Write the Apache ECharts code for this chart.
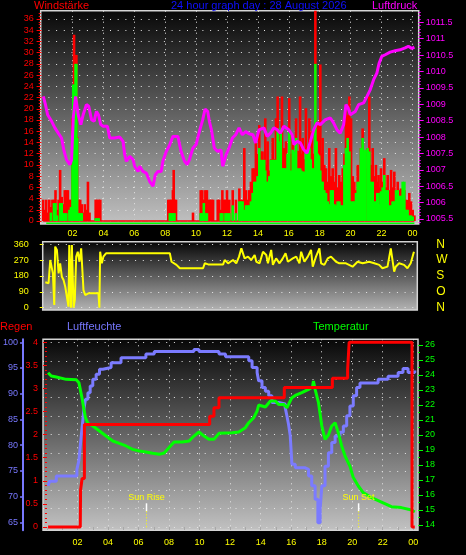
<!DOCTYPE html>
<html><head><meta charset="utf-8">
<script src="https://cdn.jsdelivr.net/npm/echarts@6/dist/echarts.min.js"></script>
<style>html,body{margin:0;padding:0;background:#000;}#c{width:466px;height:555px;}</style>
</head><body><div id="c"></div>
<script>
// ---------- tick labels ----------
const hourLabels = [2,4,6,8,10,12,14,16,18,20,22,24];
const hourTicks = [0,1,2,3,4,5,6,7,8,9,10,11,12,13,14,15,16,17,18,19,20,21,22,23,24];
const windTicks = [0,2,4,6,8,10,12,14,16,18,20,22,24,26,28,30,32,34,36];
const pressureTicks = [1005.5,1006,1006.5,1007,1007.5,1008,1008.5,1009,1009.5,1010,1010.5,1011,1011.5];
const dirTicks = [0,90,180,270,360];
const dirNames = {0:'N',90:'O',180:'S',270:'W',360:'N'};
const rainTicks = [0,0.5,1,1.5,2,2.5,3,3.5,4];
const rainGridRows = [0,0.4,0.8,1.2,1.6,2,2.4,2.8,3.2,3.6,4];
const humTicks = [65,70,75,80,85,90,95,100];
const tempTicks = [14,15,16,17,18,19,20,21,22,23,24,25,26];

// ---------- data (hour of day, value) ----------
const windGust = [
[0.1,3.8],[0.2,2.0],[0.3,3.8],[0.4,1.5],[0.5,3.8],[0.6,2.5],[0.7,3.8],[0.8,3.8],[0.9,5.5],[1.0,2.0],[1.1,3.8],[1.2,9.1],[1.3,4.3],[1.4,3.0],[1.5,5.5],[1.6,5.5],[1.7,5.5],[1.8,3.8],[1.9,3.8],
[2.0,18.3],[2.05,24],[2.1,33.2],[2.15,26],[2.2,21],[2.25,29.6],[2.3,15],[2.4,3.8],[2.5,3.8],[2.6,3.0],[2.7,1.5],[2.8,3.0],[2.9,2.0],[3.0,7.0],[3.1,1.5],[3.5,3.8],[3.6,3.8],[3.7,3.8],[3.8,3.8],
[8.2,3.8],[8.3,3.8],[8.4,3.8],[8.5,5.5],[8.55,9.1],[8.6,3.8],[8.7,3.8],[9.8,1.5],[10.3,5.5],[10.4,5.5],[10.5,3.8],[10.6,5.5],[10.7,5.5],[10.8,3.8],[10.9,3.8],[11.0,3.8],[11.1,3.8],[11.4,3.8],[11.5,3.8],[11.6,2.0],[11.7,5.5],[11.8,3.8],[11.9,3.8],[12.0,5.5],
[12.15,3.8],[12.37,5.5],[12.58,3.8],[12.8,5.8],[12.9,3.8],[13.01,3.8],[13.12,13.0],[13.23,5.5],[13.35,3.8],[13.44,5.5],[13.55,7.0],[13.66,9.4],[13.77,9.4],[13.87,14.2],[13.98,12.0],
[14.09,17.1],[14.2,12.4],[14.3,12.4],[14.41,11.0],[14.48,18.3],[14.55,10.0],[14.63,14.2],[14.74,9.0],[14.85,11.0],[14.96,14.8],[15.06,11.0],[15.17,18.3],[15.28,22.2],[15.39,16.0],[15.48,12.0],[15.56,22.2],[15.63,10.0],[15.71,13.0],[15.82,14.2],[15.92,11.0],
[16.03,21.9],[16.14,12.0],[16.25,15.4],[16.36,12.0],[16.47,18.3],[16.6,12.5],[16.73,22.2],[16.81,12.0],[16.9,14.8],[17.0,11.0],[17.11,20.1],[17.22,13.0],[17.33,18.3],[17.42,12.0],[17.5,16.0],[17.61,12.0],[17.72,40],[17.8,13.0],[17.87,17.7],[17.96,12.0],
[18.04,27.9],[18.12,12.0],[18.19,14.8],[18.3,10.0],[18.41,9.4],[18.52,7.0],[18.62,13.0],[18.73,8.0],[18.84,9.4],[18.95,7.0],[19.05,13.0],[19.16,6.0],[19.27,8.2],[19.38,7.0],[19.49,9.4],[19.6,12.0],[19.7,20.7],[19.81,18.9],[19.92,22.2],
[20.03,18.3],[20.14,8.0],[20.24,7.0],[20.35,5.5],[20.46,10.0],[20.57,7.0],[20.67,13.0],[20.78,16.5],[20.87,10.0],[20.96,9.4],[21.1,13.0],[21.21,22.2],[21.32,10.0],[21.43,13.0],[21.54,8.0],[21.64,10.0],[21.73,7.0],[21.81,8.2],[21.9,6.0],[21.97,9.4],
[22.08,7.0],[22.18,11.2],[22.29,6.0],[22.4,8.2],[22.51,5.5],[22.62,9.1],[22.72,6.0],[22.83,8.8],[22.94,5.5],[23.05,7.0],[23.16,5.5],[23.26,5.8],[23.37,3.8],[23.48,5.5],[23.58,3.8],[23.69,3.75],[23.8,5.0],[23.91,3.5],[24.02,2.0],[24.13,1.0]
];
const windSpeed = [
[0.6,1.5],[0.8,3.2],[0.9,3.2],[1.0,1.0],[1.2,3.2],[1.3,3.2],[1.4,1.4],[1.5,1.4],[1.6,1.4],[1.8,2.0],[1.9,2.5],[2.0,10.0],[2.05,24.3],[2.1,24.3],[2.15,24.3],[2.2,28.0],[2.25,28.0],[2.3,14.8],[2.4,1.4],[2.5,1.4],[2.6,1.4],[3.5,0.5],[3.6,0.5],[3.7,0.5],
[8.3,1.4],[8.4,1.4],[8.5,1.4],[8.6,1.4],[10.3,1.4],[10.4,1.4],[10.5,3.2],[10.6,1.4],[10.7,1.4],[11.6,1.4],[11.7,1.4],[11.9,1.4],[12.0,1.4],
[12.15,1.4],[12.37,2.8],[12.58,1.4],[12.8,3.5],[12.9,3.5],[13.01,3.5],[13.12,2.0],[13.23,2.8],[13.35,2.8],[13.44,2.8],[13.55,3.5],[13.66,5.0],[13.77,7.0],[13.87,7.0],[13.98,8.0],
[14.09,13.0],[14.2,10.9],[14.3,10.9],[14.41,10.9],[14.48,9.0],[14.55,7.0],[14.63,7.0],[14.74,8.0],[14.85,10.9],[14.96,10.9],[15.06,10.9],[15.17,10.9],[15.28,16.5],[15.39,14.2],[15.48,16.5],[15.56,9.4],[15.63,9.4],[15.71,9.4],[15.82,9.4],[15.92,12.0],
[16.03,16.0],[16.14,9.0],[16.25,12.7],[16.36,12.4],[16.47,14.8],[16.6,9.4],[16.73,9.4],[16.81,9.0],[16.9,8.8],[17.0,8.8],[17.11,12.4],[17.22,12.7],[17.33,13.0],[17.42,11.0],[17.5,9.4],[17.61,9.4],[17.72,28.0],[17.8,14.2],[17.87,12.0],[17.96,11.7],
[18.04,9.0],[18.12,7.0],[18.19,7.0],[18.3,5.5],[18.41,5.0],[18.52,3.5],[18.62,3.0],[18.73,5.5],[18.84,5.5],[18.95,3.0],[19.05,2.8],[19.16,3.5],[19.27,3.5],[19.38,2.8],[19.49,2.8],[19.6,10.0],[19.7,13.0],[19.81,14.8],[19.92,12.4],
[20.03,3.5],[20.14,3.5],[20.24,3.5],[20.35,5.0],[20.46,7.0],[20.57,7.0],[20.67,13.0],[20.78,14.8],[20.87,12.4],[20.96,12.7],[21.1,13.0],[21.21,12.4],[21.32,7.0],[21.43,7.0],[21.54,3.5],[21.64,3.5],[21.73,5.0],[21.81,5.0],[21.9,3.0],[21.97,5.3],
[22.08,6.0],[22.18,8.2],[22.29,5.5],[22.4,5.5],[22.51,2.8],[22.62,2.8],[22.72,3.5],[22.83,3.5],[22.94,5.5],[23.05,5.5],[23.16,4.5],[23.26,4.5],[23.37,7.0],[23.48,7.0],[23.58,2.0],[23.69,2.0],[23.8,1.0],[23.91,1.0],[24.02,0.8]
];
const gustBase = [[0.1,0],[24.13,0]];
const speedBase = [[0.3,-0.4],[24.13,-0.4]];
const pressure = [
[0.11,1009.24],[0.25,1008.99],[0.39,1008.68],[0.65,1008.48],[0.86,1008.28],[1.08,1008.12],[1.29,1007.97],[1.46,1007.56],[1.61,1007.31],[1.83,1007.16],[1.94,1007.3],[2.05,1008.58],[2.2,1009.24],[2.37,1008.68],[2.54,1008.38],[2.69,1008.68],[2.9,1008.99],[3.05,1008.94],[3.23,1008.53],[3.4,1008.48],[3.55,1008.78],[3.68,1008.68],[3.83,1008.38],[3.98,1008.33],[4.26,1008.33],[4.41,1007.97],[4.73,1007.97],[5.06,1008.0],[5.27,1007.87],[5.38,1007.46],[5.49,1007.26],[5.7,1007.41],[5.92,1007.31],[6.02,1007.11],[6.24,1006.95],[6.35,1007.11],[6.56,1006.95],[6.78,1006.9],[6.99,1006.65],[7.21,1006.5],[7.36,1006.85],[7.53,1006.95],[7.74,1006.95],[7.85,1007.26],[8.07,1007.56],[8.28,1007.75],[8.5,1008.02],[8.82,1008.02],[9.03,1007.56],[9.25,1007.26],[9.42,1007.16],[9.57,1007.31],[9.79,1007.66],[10.0,1007.77],[10.22,1008.18],[10.43,1008.53],[10.58,1008.85],[10.75,1008.78],[10.86,1008.48],[11.01,1008.18],[11.18,1007.66],[11.4,1007.56],[11.61,1007.61],[11.72,1007.11],[11.94,1007.46],
[12.13,1007.66],[12.35,1007.97],[12.56,1008.07],[12.78,1008.28],[12.99,1008.07],[13.21,1008.17],[13.42,1008.1],[13.68,1008.07],[13.85,1007.82],[14.07,1008.22],[14.39,1008.28],[14.6,1008.02],[14.82,1008.12],[15.03,1008.28],[15.25,1008.22],[15.46,1008.12],[15.68,1008.33],[16.0,1008.22],[16.22,1008.07],[16.33,1007.77],[16.54,1007.87],[16.75,1007.82],[16.97,1007.61],[17.18,1007.51],[17.4,1007.87],[17.61,1008.22],[17.83,1008.43],[18.04,1008.38],[18.37,1008.53],[18.69,1008.58],[18.9,1008.43],[19.12,1008.22],[19.33,1008.12],[19.55,1008.38],[19.7,1008.99],[19.84,1008.89],[19.98,1008.68],[20.3,1008.78],[20.52,1008.99],[20.84,1009.04],[21.06,1009.24],[21.27,1009.44],[21.49,1009.75],[21.7,1009.95],[21.85,1010.26],[22.02,1010.46],[22.24,1010.51],[22.56,1010.59],[22.88,1010.63],[23.2,1010.66],[23.53,1010.72],[23.74,1010.77],[23.96,1010.7],[24.13,1010.74]
];
const windDir = [
[0.24,144],[0.45,139],[0.56,271],[0.67,271],[0.73,195],[0.82,15],[0.88,347],[0.99,328],[1.1,195],[1.2,252],[1.31,176],[1.42,157],[1.53,119],[1.64,110],[1.74,6],[1.79,356],[1.9,0],[1.96,356],[2.07,0],[2.15,44],[2.24,290],[2.34,318],[2.45,261],[2.56,337],[2.65,328],[2.71,100],[2.82,72],[3.03,82],[3.68,82],[3.74,0],[3.79,318],[3.9,252],[4.0,290],[4.17,309],[8.3,309],[8.41,261],[8.73,243],[8.95,224],[10.45,224],[10.56,252],[10.78,246],[11.1,246],[11.75,246],[11.85,271],[12.07,252],[12.39,271],[12.6,252],[12.78,290],[12.93,337],[13.14,280],[13.36,290],[13.57,271],[13.79,299],[13.9,261],[14.11,252],[14.33,318],[14.54,299],[14.65,252],[14.86,328],[14.97,243],[15.18,280],[15.4,252],[15.61,280],[15.79,309],[15.94,261],[16.26,280],[16.48,290],[16.69,252],[16.8,318],[17.01,261],[17.23,290],[17.44,328],[17.55,233],[17.76,290],[17.98,337],[18.09,252],[18.3,243],[18.52,280],[18.73,290],[19.06,261],[19.27,252],[19.7,252],[20.13,233],[20.45,261],[20.78,252],[21.2,261],[21.53,252],[21.85,243],[22.06,224],[22.39,233],[22.6,337],[22.82,205],[22.92,233],[23.14,252],[23.46,243],[23.68,224],[23.89,252],[24.1,318]
];
const rain = [
[0.07,0],[2.18,0],[2.2,0.8],[2.3,1.05],[2.45,2.22],[10.66,2.40],[10.94,2.58],[11.27,2.80],[15.55,3.02],[18.7,3.22],[19.7,3.41],[19.8,4.0],[23.92,0],[24.1,0]
];
const humidity = [
[0.07,72.1],[0.18,73.0],[0.61,74.0],[1.96,75.3],[2.09,77.0],[2.18,79.8],[2.31,83.7],[2.42,87.0],[2.52,88.9],[2.68,90.2],[2.83,91.5],[3.0,92.8],[3.22,93.8],[3.44,94.75],[3.66,95.1],[4.2,96.0],[4.85,97.0],[6.48,97.7],[7.03,98.2],[9.63,98.6],[9.96,98.2],[11.27,97.7],[11.7,97.2],[13.22,96.4],[13.44,95.1],[13.77,94.1],[13.87,92.5],[14.09,91.2],[14.31,90.5],[14.53,89.6],[14.74,88.3],[15.18,88.0],[15.61,87.3],[15.72,85.7],[15.83,84.0],[15.94,81.8],[16.05,76.3],[16.27,75.6],[16.92,75.3],[17.14,74.0],[17.35,72.1],[17.57,69.5],[17.75,64.9],[17.9,67.5],[18.01,72.1],[18.22,75.9],[18.44,78.5],[18.66,80.5],[18.88,81.8],[19.2,82.5],[19.42,83.7],[19.64,85.7],[19.85,87.6],[20.07,89.6],[20.29,91.2],[20.51,92.1],[21.7,92.8],[22.35,93.4],[23.01,94.1],[23.33,94.9],[23.66,94.1],[24.1,94.5]
];
const temperature = [
[0.07,24.15],[0.28,23.93],[0.61,23.87],[1.26,23.71],[1.92,23.68],[2.09,23.49],[2.18,23.04],[2.31,22.38],[2.42,21.71],[2.52,21.16],[2.68,20.78],[3.0,20.6],[3.44,20.27],[3.87,19.93],[4.31,19.6],[4.74,19.44],[5.18,19.27],[5.61,19.04],[6.05,18.93],[6.48,18.87],[6.92,18.78],[7.35,18.71],[7.68,18.8],[8.0,19.16],[8.33,19.53],[8.87,19.53],[9.31,19.6],[9.63,19.93],[9.96,20.2],[10.29,19.93],[10.61,19.71],[10.94,19.71],[11.27,20.11],[12.14,20.15],[12.57,20.2],[13.0,20.49],[13.22,20.82],[13.55,21.16],[13.77,21.6],[13.87,22.0],[14.31,21.87],[14.64,22.27],[14.96,22.27],[15.18,22.04],[15.51,22.04],[15.72,21.82],[15.83,22.04],[16.05,22.49],[16.27,22.64],[16.7,22.82],[17.14,23.04],[17.4,23.2],[17.46,23.6],[17.57,23.04],[17.79,22.16],[18.01,20.6],[18.22,19.71],[18.44,20.0],[18.66,20.6],[18.88,20.82],[19.09,20.15],[19.31,19.27],[19.53,18.6],[19.85,17.93],[20.07,17.16],[20.4,16.6],[20.72,16.16],[21.27,15.82],[21.92,15.53],[22.57,15.22],[23.22,15.16],[23.88,15.0],[24.1,14.87]
];
const sunEvents = [{name:'Sun Rise', time:6.52},{name:'Sun Set', time:20.42}];

// ---------- helpers ----------
const FONT = 'Liberation Sans';
const range = (a,b,s)=>{const r=[];for(let v=a;v<=b+1e-9;v+=s)r.push(+v.toFixed(3));return r;};
const dotted = (c)=>({show:true,lineStyle:{color:c||'#e6e6e6',width:1,type:[1,5.5]}});
const bg = (t,b)=>({type:'linear',x:0,y:0,x2:0,y2:1,colorStops:[{offset:0,color:t},{offset:1,color:b}]});
const hourFmt = v => { const h = Math.round(v)%24; return h<10?'0'+h:''+h; };
function yAx(o){
  return Object.assign({type:'value',axisLine:{show:false},splitLine:{show:false}}, o);
}
function minorAx(grid,pos,min,max,vals,color,len){
  return {type:'value',gridIndex:grid,position:pos,min:min,max:max,axisLine:{show:false},
    axisLabel:{show:false},splitLine:{show:false},
    axisTick:{show:true,length:len,customValues:vals,lineStyle:{color:color,width:1}}};
}

const chart = echarts.init(document.getElementById('c'), null, {renderer:'canvas'});
const titleStyle = c => ({color:c,fontSize:11,fontWeight:'normal',fontFamily:FONT});

const option = {
  backgroundColor:'#000',
  animation:false,
  title:[
    {text:'Windstärke',left:34,top:0,padding:0,textStyle:titleStyle('#ff0000')},
    {text:'24 hour graph day : 28 August 2026',left:171,top:0,padding:0,textStyle:titleStyle('#1010ff')},
    {text:'Luftdruck',left:372,top:0,padding:0,textStyle:titleStyle('#ff00ff')},
    {text:'Regen',left:0,top:321,padding:0,textStyle:titleStyle('#ff0000')},
    {text:'Luftfeuchte',left:67,top:321,padding:0,textStyle:titleStyle('#7878ff')},
    {text:'Temperatur',left:313,top:321,padding:0,textStyle:titleStyle('#00ff00')}
  ],
  grid:[
    {left:40.7,top:10.7,width:378,height:213.3,show:true,backgroundColor:bg('#070707','#c2c2c2'),borderColor:'#d4d4d4',borderWidth:1.5},
    {left:42.7,top:241.7,width:374.6,height:68.3,show:true,backgroundColor:bg('#050505','#b4b4b4'),borderColor:'#d4d4d4',borderWidth:1.5},
    {left:41.3,top:339.3,width:376.7,height:191,show:true,backgroundColor:bg('#070707','#c2c2c2'),borderColor:'#d4d4d4',borderWidth:1.5}
  ],
  xAxis:[
    {type:'value',gridIndex:0,min:-0.058,max:24.408,axisLine:{show:false},
     axisTick:{show:false,customValues:hourLabels},
     axisLabel:{customValues:hourLabels,formatter:hourFmt,color:'#ffff00',fontSize:9,fontFamily:FONT,margin:5},
     splitLine:{show:true,lineStyle:{color:'#e6e6e6',width:1,type:[1,4.5]}}},
    {type:'value',gridIndex:1,min:0.071,max:24.317,show:false},
    {type:'value',gridIndex:2,min:-0.261,max:24.312,axisLine:{show:false},
     axisTick:{show:false,customValues:hourLabels},
     axisLabel:{customValues:hourLabels,formatter:hourFmt,color:'#ffff00',fontSize:9,fontFamily:FONT,margin:8},
     splitLine:{show:true,lineStyle:{color:'#e6e6e6',width:1,type:[1,5]}}},
    {type:'value',gridIndex:2,position:'bottom',min:-0.261,max:24.312,axisLine:{show:false},
     axisTick:{show:true,length:3,customValues:hourTicks,lineStyle:{color:'#a8a8a8'}},
     axisLabel:{show:false},splitLine:{show:false}}
  ],
  yAxis:[
    // 0 wind
    yAx({gridIndex:0,position:'left',min:-0.535,max:37.48,
      axisTick:{show:true,length:5,customValues:windTicks,lineStyle:{color:'#ff0000'}},
      axisLabel:{customValues:windTicks,color:'#ff0000',fontSize:9,fontFamily:FONT,margin:7},
      splitLine:{show:true,lineStyle:{color:'#e6e6e6',width:1,type:[1,6.7]}}}),
    // 1 wind minor
    minorAx(0,'left',-0.535,37.48,range(0,37,0.5),'#ff0000',2),
    // 2 pressure
    yAx({gridIndex:0,position:'right',min:1005.347,max:1011.854,
      axisTick:{show:true,length:5,customValues:pressureTicks,lineStyle:{color:'#ff00ff'}},
      axisLabel:{customValues:pressureTicks,formatter:v=>String(+(+v).toFixed(1)),color:'#ff00ff',fontSize:9,fontFamily:FONT,margin:7}}),
    // 3 pressure minor
    minorAx(0,'right',1005.347,1011.854,range(1005.4,1011.8,0.1),'#ff00ff',2),
    // 4 direction left
    yAx({gridIndex:1,position:'left',min:-13.1,max:374.8,
      axisTick:{show:true,length:3,customValues:dirTicks,lineStyle:{color:'#ffff00'}},
      axisLabel:{customValues:dirTicks,color:'#ffff00',fontSize:9,fontFamily:FONT,margin:14},
      splitLine:{show:true,lineStyle:{color:'#e6e6e6',width:1,type:[1,6.7]}}}),
    // 5 direction right letters
    yAx({gridIndex:1,position:'right',min:-13.1,max:374.8,
      axisTick:{show:false,customValues:dirTicks},
      axisLabel:{customValues:dirTicks,formatter:v=>dirNames[Math.round(v)],color:'#ffff00',fontSize:12,fontFamily:FONT,margin:19}}),
    // 6 rain
    yAx({gridIndex:2,position:'left',min:-0.0715,max:4.065,
      axisTick:{show:true,length:4,customValues:rainTicks,lineStyle:{color:'#ff0000'}},
      axisLabel:{customValues:rainTicks,color:'#ff0000',fontSize:9,fontFamily:FONT,margin:5}}),
    // 7 rain minor
    minorAx(2,'left',-0.0715,4.065,range(0,4,0.1),'#ff0000',2),
    // 8 humidity
    yAx({gridIndex:2,position:'left',offset:20,min:63.44,max:100.58,
      axisLine:{show:true,lineStyle:{color:'#7878ff',width:2}},
      axisTick:{show:true,length:3,customValues:humTicks,lineStyle:{color:'#7878ff',width:1.5}},
      axisLabel:{customValues:humTicks,color:'#7878ff',fontSize:9,fontFamily:FONT,margin:5}}),
    // 9 temperature
    yAx({gridIndex:2,position:'right',min:13.647,max:26.38,
      axisTick:{show:true,length:5,customValues:tempTicks,lineStyle:{color:'#00ff00'}},
      axisLabel:{customValues:tempTicks,color:'#00ff00',fontSize:9,fontFamily:FONT,margin:7}}),
    // 10 temperature minor
    minorAx(2,'right',13.647,26.38,range(14,26,0.5),'#00ff00',2),
    // 11 bottom panel grid rows
    {type:'value',gridIndex:2,position:'left',min:-0.0715,max:4.065,axisLine:{show:false},
     axisLabel:{show:false},axisTick:{show:false,customValues:rainGridRows},
     splitLine:{show:true,lineStyle:{color:'#e6e6e6',width:1,type:[1,6.7]}}}
  ],
  series:[
    {type:'line',xAxisIndex:0,yAxisIndex:0,data:gustBase,symbol:'none',lineStyle:{color:'#ff0000',width:1.5},z:2,silent:true},
    {type:'line',xAxisIndex:0,yAxisIndex:0,data:speedBase,symbol:'none',lineStyle:{color:'#00ff00',width:1.5},z:2,silent:true},
    {type:'bar',xAxisIndex:0,yAxisIndex:0,data:windGust,barWidth:2.6,barGap:'-100%',itemStyle:{color:'#ff0000'},z:3,silent:true},
    {type:'bar',xAxisIndex:0,yAxisIndex:0,data:windSpeed,barWidth:2.6,barGap:'-100%',itemStyle:{color:'#00ff00'},z:4,silent:true},
    {type:'line',xAxisIndex:0,yAxisIndex:2,data:pressure,symbol:'none',lineStyle:{color:'#ff00ff',width:3},z:5,silent:true},
    {type:'line',xAxisIndex:1,yAxisIndex:4,data:windDir,symbol:'none',lineStyle:{color:'#ffff00',width:2},z:5,silent:true},
    {type:'line',xAxisIndex:2,yAxisIndex:8,data:humidity,step:'end',symbol:'none',lineStyle:{color:'#7b7bff',width:3},z:5,silent:true},
    {type:'line',xAxisIndex:2,yAxisIndex:9,data:temperature,symbol:'none',lineStyle:{color:'#00ff00',width:3},z:6,silent:true},
    {type:'line',xAxisIndex:2,yAxisIndex:6,data:rain,step:'end',symbol:'none',lineStyle:{color:'#ff0000',width:3},z:7,silent:true},
    {type:'custom',xAxisIndex:2,yAxisIndex:6,data:sunEvents.map(e=>[e.time,0]),silent:true,z:8,
     renderItem:function(params,api){
       const cs = params.coordSys;
       const x = api.coord([api.value(0),api.value(1)])[0];
       const b = cs.y + cs.height;
       return {type:'group',children:[
         {type:'text',style:{text:sunEvents[params.dataIndex].name,x:x,y:b-32.5,fill:'#ffff00',fontSize:9,fontFamily:FONT,align:'center',verticalAlign:'middle'}},
         {type:'line',shape:{x1:x,y1:b-27,x2:x,y2:b-19},style:{stroke:'#ffffff',lineWidth:1.5}},
         {type:'line',shape:{x1:x,y1:b-19,x2:x,y2:b-1},style:{stroke:'#ffff00',lineWidth:1,lineDash:[1,2]}}
       ]};
     }}
  ]
};
chart.setOption(option);
</script>
</body></html>
